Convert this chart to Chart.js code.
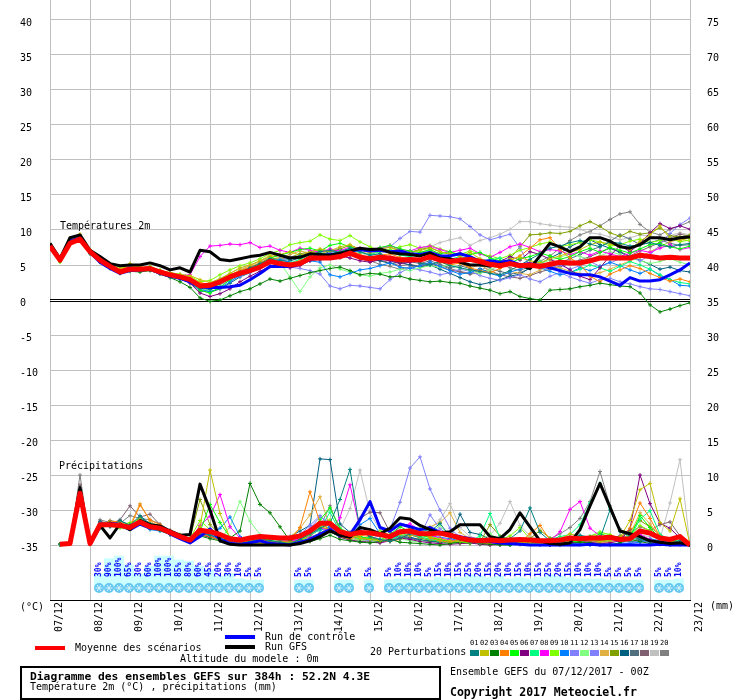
<!DOCTYPE html>
<html>
<head>
<meta charset="utf-8">
<script src="https://cdn.jsdelivr.net/npm/chart.js@4.4.0/dist/chart.umd.min.js"></script>
<style>
  body { margin: 0; background: #fff; }
  #wrap { position: relative; width: 740px; height: 700px; font-family: "DejaVu Sans Mono", monospace; font-size: 10px; color: #000; }
  canvas { position: absolute; left: 0; top: 0; }
  .t { position: absolute; white-space: nowrap; line-height: 12px; }
  .b { font-weight: bold; }
  .bar { position: absolute; width: 30px; height: 4px; }
  .sw { position: absolute; width: 9px; height: 6px; }
  .num { position: absolute; font-size: 7px; line-height: 10px; }
</style>
</head>
<body>
<div id="wrap">
  <canvas id="c" width="740" height="700"></canvas>
  <div class="t" style="left:60px;top:220px">Températures 2m</div>
  <div class="t" style="left:59px;top:460px">Précipitations</div>
  <div class="t" style="left:20px;top:601px">(°C)</div>
  <div class="t" style="left:710px;top:600px">(mm)</div>

  <div class="bar" style="left:225px;top:635px;background:#0000ff"></div>
  <div class="t" style="left:265px;top:631px">Run de contrôle</div>
  <div class="bar" style="left:225px;top:645px;background:#000"></div>
  <div class="t" style="left:265px;top:641px">Run GFS</div>
  <div class="bar" style="left:35px;top:646px;background:#ff0000"></div>
  <div class="t" style="left:75px;top:642px">Moyenne des scénarios</div>
  <div class="t" style="left:180px;top:653px">Altitude du modele : 0m</div>

  <div style="position:absolute;left:20px;top:666px;width:421px;height:34px;border:2px solid #000;box-sizing:border-box"></div>
  <div class="t b" style="left:30px;top:671px;font-size:11.3px">Diagramme des ensembles GEFS sur 384h : 52.2N 4.3E</div>
  <div class="t" style="left:30px;top:681px">Température 2m (°C) , précipitations (mm)</div>

  <div class="t" style="left:370px;top:646px">20 Perturbations</div>
  <div id="swatches"></div>
  <div class="t" style="left:450px;top:666px">Ensemble GEFS du 07/12/2017 - 00Z</div>
  <div class="t b" style="left:450px;top:686px;font-size:11.5px">Copyright 2017 Meteociel.fr</div>
</div>

<script>
// time steps (hours after 07/12 00Z)
const hours = [0,6,12,18,24,30,36,42,48,54,60,66,72,78,84,90,96,102,108,114,120,126,132,138,144,150,156,162,168,174,180,186,192,198,204,210,216,222,228,234,240,246,252,258,264,270,276,282,288,294,300,306,312,318,324,330,336,342,348,354,360,366,372,378,384];
const dayTicks = [0,24,48,72,96,120,144,168,192,216,240,264,288,312,336,360,384];
const dayLabels = ["07/12","08/12","09/12","10/12","11/12","12/12","13/12","14/12","15/12","16/12","17/12","18/12","19/12","20/12","21/12","22/12","23/12"];
const tempTicks = [-35,-30,-25,-20,-15,-10,-5,0,5,10,15,20,25,30,35,40];
const precTicks = [0,5,10,15,20,25,30,35,40,45,50,55,60,65,70,75];

// 2m temperature (°C)
const tMean = [7.7,5.7,8.1,8.7,6.9,5.7,4.8,4.0,4.4,4.4,4.5,4.0,3.6, 3.3,2.9,2.0,2.1,2.6,3.3,3.8,4.2,4.7,5.5,5.2,5.0,5.2, 6.0,6.0,6.0,6.2,6.7,6.1,5.9,6.1,6.0,5.7,5.8,5.7,6.2, 5.7,5.5,5.7,5.8,5.5,5.1,4.9,5.2,4.9,5.0,4.8,5.1,5.4, 5.3,5.3,5.6,6.0,6.0,6.0,6.0,6.4,6.2,6.0,6.1,6.0,6.0];
const tCtrl = [7.5,5.8,8.4,8.9,6.8,5.4,4.5,3.8,4.2,4.3,4.4,3.8,3.4, 3.1,2.6,1.9,1.8,1.8,1.9,2.1,2.9,3.8,4.8,4.8,4.8,5.1, 6.0,6.3,6.5,6.6,7.0,7.2,7.0,7.1,6.9,7.0,6.6,6.5,6.8, 6.3,6.3,6.6,6.2,5.5,5.6,5.4,5.6,5.0,5.2,4.9,4.6,4.2, 3.8,3.6,3.6,3.3,2.7,2.1,3.2,2.7,2.7,2.9,3.6,4.3,5.3];
const tGfs = [8.1,5.9,8.9,9.3,7.1,6.2,5.2,4.9,5.0,5.0,5.3,4.9,4.3, 4.6,4.0,7.1,6.9,5.8,5.6,5.9,6.2,6.4,6.8,6.4,6.0,6.1, 6.6,6.5,6.4,6.7,7.0,7.4,7.2,7.3,6.8,6.6,6.5,6.3,6.7, 6.0,5.9,5.4,5.0,5.0,4.9,5.1,5.2,5.0,4.5,6.3,8.1,7.6, 6.9,7.6,8.9,8.9,8.4,7.6,7.4,7.9,8.9,8.9,8.6,8.9,9.0];
const t01 = [7.5,6.0,8.3,8.8,6.7,5.5,4.6,4.1,4.7,4.3,4.6,3.9,3.4, 3.0,2.6,1.7,1.5,2.4,3.2,4.0,4.6,5.2,5.9,5.6,5.8,6.3, 6.4,6.9,7.1,6.8,7.4,6.9,6.4,6.6,6.0,5.5,5.9,5.3,5.0, 5.5,4.9,4.6,4.3,4.1,3.8,3.6,4.2,5.0,5.8,6.6,7.4,7.7, 8.2,8.5,8.0,7.6,8.3,8.1,7.7,7.9,8.2,7.8,7.6,7.9,8.1];
const t02 = [7.8,5.8,8.7,9.4,7.0,5.6,4.9,4.3,5.2,4.6,4.8,4.2,3.9, 3.6,3.5,2.9,2.5,3.0,3.8,4.6,5.0,5.6,6.2,6.5,6.9,6.4, 6.8,7.3,7.0,7.6,7.9,7.2,6.8,7.3,7.5,7.0,6.7,7.1,7.4, 6.9,6.6,6.2,6.8,5.9,5.5,5.2,5.8,6.1,5.6,5.3,5.9,6.3, 6.8,7.2,7.9,8.3,8.0,7.6,7.2,8.4,9.3,10.6,8.8,8.5,8.9];
const t03 = [7.4,5.6,8.0,8.5,6.6,5.4,4.5,3.8,4.1,4.0,4.2,3.7,3.2, 2.6,1.8,0.3,-0.2,0.0,0.6,1.2,1.6,2.3,3.0,2.7,3.1,3.5, 3.9,4.2,4.5,4.7,4.2,3.6,3.8,3.7,3.3,3.4,3.0,2.8,2.6, 2.7,2.5,2.4,2.0,1.7,1.4,0.9,1.2,0.5,0.2,0.0,1.4,1.5, 1.6,1.9,2.1,2.4,2.2,2.0,1.9,1.0,-0.7,-1.7,-1.3,-0.8,-0.4];
const t04 = [7.9,5.9,8.5,9.0,7.1,5.9,5.1,4.4,4.9,4.7,4.6,4.1,3.8, 3.5,3.1,2.5,2.2,2.8,3.6,4.2,4.7,5.3,5.9,5.4,5.2,5.6, 6.3,6.5,6.2,6.8,7.1,6.5,6.0,6.4,6.6,6.1,5.8,5.6,6.0, 5.4,5.0,5.3,4.6,4.2,3.9,4.5,5.6,6.3,7.4,8.6,8.9,7.2, 6.0,5.1,3.4,2.6,3.7,4.3,4.9,4.5,3.8,3.2,2.7,3.0,2.6];
const t05 = [7.6,5.5,8.2,8.6,6.9,5.8,4.7,3.9,4.3,4.5,4.4,3.9,3.6, 3.4,2.8,1.4,1.0,1.8,2.9,3.7,4.4,5.1,6.0,6.4,6.8,7.2, 7.4,7.0,7.8,8.1,7.6,7.2,6.9,7.5,7.8,7.3,7.0,6.8,7.2, 6.6,6.9,6.3,6.5,6.8,6.0,5.6,5.3,5.9,6.2,6.7,6.3,5.8, 6.2,6.9,7.4,6.8,7.5,7.1,6.7,7.3,7.9,8.1,7.6,7.3,7.7];
const t06 = [7.7,5.8,8.0,8.6,6.8,5.6,4.8,4.1,4.5,4.3,4.3,4.0,3.5, 3.1,2.4,1.0,0.5,0.9,1.6,2.6,3.4,4.1,4.8,5.0,4.6,4.9, 5.6,5.8,6.1,6.3,6.0,5.6,5.4,5.8,5.6,5.2,5.4,5.6,5.9, 5.5,5.2,5.8,6.0,5.3,4.9,5.5,6.2,5.7,6.9,6.5,5.8,5.2, 4.3,3.4,2.9,4.6,6.3,7.8,6.9,8.1,9.6,10.9,10.2,10.6,10.1];
const t07 = [7.8,5.7,8.3,8.9,7.0,5.7,4.9,4.2,4.4,4.5,4.7,4.1,3.7, 3.4,3.0,2.1,2.3,2.9,3.6,4.0,4.5,5.0,5.7,5.5,5.3,5.8, 6.4,6.7,6.6,6.9,7.3,6.8,6.5,6.9,7.1,6.4,6.2,6.6,7.0, 6.1,5.8,6.2,5.9,5.2,5.7,6.0,5.3,4.8,5.1,5.5,4.7,4.3, 3.9,4.4,5.0,4.6,4.1,4.8,5.5,5.0,4.4,3.6,2.9,2.5,2.3];
const t08 = [7.7,5.9,8.4,8.9,7.0,5.9,5.0,4.3,4.8,4.4,4.6,4.1,3.8, 3.5,3.6,6.2,7.7,7.8,8.0,7.9,8.2,7.5,7.7,7.1,6.8,7.4, 7.1,6.8,7.3,7.0,7.6,7.4,6.9,7.4,7.8,7.2,7.0,7.5,7.7, 7.2,6.8,7.1,7.4,6.6,6.1,6.8,7.6,8.0,7.5,6.9,7.2,7.0, 6.5,6.9,6.4,7.0,6.6,6.2,6.7,7.1,6.8,7.4,7.9,7.2,7.5];
const t09 = [7.8,5.4,8.8,9.2,7.1,5.8,5.0,4.5,5.0,4.6,4.7,4.2,3.9, 3.7,3.4,2.6,2.8,3.6,4.3,4.9,5.3,5.9,6.6,7.1,7.9,8.2, 8.4,9.3,8.7,8.5,9.2,8.3,7.6,7.0,7.2,7.6,7.9,7.4,7.8, 7.3,6.9,6.5,7.0,6.6,6.3,5.9,6.4,7.1,7.5,8.0,8.3,7.6, 7.9,8.2,8.6,8.3,7.7,7.9,8.4,8.7,8.2,8.5,8.8,8.3,8.6];
const t10 = [7.5,5.6,8.1,8.6,6.8,5.5,4.6,3.9,4.2,4.2,4.3,3.8,3.4, 3.1,2.5,1.5,1.2,1.7,2.6,3.5,4.1,4.8,5.5,5.8,5.4,5.1, 5.6,5.4,3.6,3.3,3.8,4.3,4.5,4.9,5.3,4.7,4.5,4.9,5.4, 4.8,4.2,3.7,3.9,4.5,3.8,3.4,4.0,4.4,5.0,4.6,4.1,3.6, 3.9,4.6,4.2,4.8,5.4,4.9,4.3,3.8,4.4,3.5,2.9,2.1,2.0];
const t11 = [7.6,5.7,7.9,8.5,6.7,5.6,4.7,4.0,4.3,4.4,4.4,3.9,3.5, 3.2,2.7,1.9,2.0,2.4,3.1,3.6,4.0,4.5,5.3,5.7,6.1,6.3, 6.6,6.2,6.8,7.0,7.4,7.1,6.8,7.3,7.6,8.8,9.8,9.7,12.1, 12.0,11.9,11.6,10.5,9.3,8.6,9.0,9.4,7.4,4.8,5.2,4.6,5.0, 4.4,4.9,5.5,4.8,5.3,5.9,6.2,5.6,6.4,7.9,9.5,10.8,11.7];
const t12 = [7.9,5.8,8.6,9.1,7.2,5.9,5.0,4.2,4.6,4.5,4.8,4.3,3.7, 3.3,2.8,1.6,1.3,2.2,3.0,3.9,4.5,5.2,5.5,5.3,3.3,1.2, 3.3,4.6,5.0,4.4,4.0,3.6,3.4,3.8,4.0,4.4,4.2,4.6,4.9, 4.7,5.1,4.6,4.2,3.8,4.3,4.9,5.5,5.0,4.6,5.2,5.7,6.1, 6.6,6.2,5.8,6.3,6.9,6.5,6.0,5.6,5.2,5.5,5.9,5.4,5.0];
const t13 = [7.6,5.6,8.2,8.7,6.9,5.7,4.8,4.0,4.4,4.3,4.5,4.0,3.6, 3.3,2.9,1.8,1.6,2.1,2.8,3.4,4.0,4.6,5.4,5.0,4.7,4.5, 4.2,3.7,2.0,1.6,2.1,2.0,1.8,1.6,2.9,3.9,4.6,4.3,4.0, 3.6,3.9,4.4,4.1,3.5,3.1,2.8,3.2,3.6,3.0,2.6,3.4,3.9, 3.3,2.8,2.4,2.9,3.1,2.6,2.3,1.9,1.6,1.5,1.2,0.9,0.6];
const t14 = [7.8,5.7,8.6,9.3,7.0,5.8,5.1,4.5,5.1,4.6,4.8,4.2,3.9, 3.6,3.3,2.4,2.1,2.6,3.5,4.3,4.9,5.6,6.4,6.0,6.5,7.0, 6.7,7.0,6.5,6.9,7.3,6.9,6.6,7.0,7.2,6.6,6.4,6.8,7.1, 6.5,5.9,5.2,4.6,5.0,4.2,3.4,4.1,3.8,3.6,4.3,4.9,4.6, 4.1,3.8,3.5,3.9,4.4,5.0,5.6,6.1,6.9,7.6,8.3,8.7,8.4];
const t15 = [7.7,5.8,8.5,9.0,7.1,5.8,4.9,4.3,4.8,4.5,4.6,4.1,3.7, 3.4,3.1,2.2,2.0,2.7,3.4,4.1,4.6,5.3,6.0,5.8,6.1,6.6, 6.9,7.2,6.8,7.3,7.8,7.3,6.9,7.3,7.6,7.0,6.8,7.2,7.5, 6.9,6.5,6.7,6.2,5.8,5.5,5.0,5.9,7.6,9.3,9.4,9.6,9.5, 9.8,10.6,11.2,10.5,9.6,9.1,9.8,9.4,9.6,10.3,9.2,9.0,9.3];
const t16 = [7.5,5.9,8.0,8.6,6.8,5.5,4.6,3.9,4.3,4.2,4.4,3.9,3.4, 3.0,2.5,1.3,1.1,1.6,2.4,3.3,3.9,4.6,5.2,5.3,5.6,6.0, 6.6,6.4,6.9,7.2,6.8,6.3,5.9,5.6,5.2,5.4,5.0,4.7,5.0, 4.4,3.8,3.2,2.6,2.2,2.5,2.9,3.4,3.7,4.6,5.1,6.0,6.7, 7.6,8.3,8.6,7.9,7.4,6.8,6.2,5.7,5.1,4.4,4.7,4.2,4.0];
const t17 = [7.7,5.7,8.2,8.8,6.9,5.6,4.7,4.1,4.5,4.4,4.5,4.0,3.6, 3.2,2.8,1.9,1.7,2.3,3.1,3.8,4.3,4.9,5.6,5.4,5.1,5.5, 6.2,6.0,6.3,6.5,6.9,6.3,5.8,6.0,5.7,5.3,5.5,5.2,5.6, 5.1,4.6,4.9,4.5,4.0,4.4,4.1,3.7,3.9,4.5,5.0,4.6,5.3, 5.9,6.5,7.1,7.6,8.4,9.3,8.7,7.9,8.2,8.6,8.1,7.8,7.9];
const t18 = [7.8,5.6,8.4,8.9,7.0,5.7,4.8,4.1,4.6,4.5,4.6,4.1,3.7, 3.4,3.0,2.0,1.9,2.5,3.3,4.0,4.4,5.0,5.7,5.3,5.0,5.4, 6.0,5.7,6.1,6.0,6.4,5.9,5.5,5.7,5.3,4.9,5.1,4.8,5.2, 4.7,4.3,4.0,3.7,3.9,4.2,3.6,3.3,3.1,3.5,4.0,4.4,4.8, 5.2,5.7,6.2,6.8,7.4,6.9,6.3,7.0,7.6,8.2,8.9,9.4,9.1];
const t19 = [7.9,5.9,8.7,9.3,7.1,5.9,5.0,4.4,5.0,4.7,4.7,4.2,3.8, 3.5,3.2,2.3,2.4,3.1,3.8,4.5,4.9,5.5,6.1,5.8,6.0,6.4, 6.9,6.6,7.1,7.4,7.0,6.7,6.3,6.7,7.0,6.5,6.7,7.3,7.6, 8.2,8.6,8.9,7.8,8.5,8.9,9.4,10.1,11.2,11.2,10.9,10.7,10.5, 10.4,10.1,9.6,9.4,9.0,8.6,8.9,9.3,9.1,8.8,9.2,9.6,9.3];
const t20 = [7.6,5.7,8.3,8.7,6.9,5.7,4.8,4.1,4.5,4.4,4.4,3.9,3.5, 3.2,2.7,1.8,1.7,2.3,3.1,3.7,4.2,4.8,5.4,5.2,5.0,5.4, 6.1,5.9,6.2,6.4,6.8,6.2,5.6,5.1,4.8,4.4,4.7,5.0,5.3, 4.9,4.5,4.1,3.8,4.3,4.7,5.1,4.6,4.2,4.8,5.5,6.3,7.4, 8.5,9.3,9.8,10.6,11.5,12.3,12.6,10.8,9.7,9.3,10.1,10.6,11.2];

// 6h precipitation (mm), first step has no value
const pMean = [null, 0.1,0.2,7.4,0.2,2.9,2.9,2.8,2.5,3.3,2.6,2.4,1.8, 1.2,0.7,2.1,1.9,1.5,0.9,0.7,1.0,1.2,1.1,1.0,1.0,1.3, 2.0,3.1,3.1,1.9,1.5,1.8,1.7,1.5,1.2,1.9,2.0,1.6,1.6, 1.7,1.4,1.0,0.7,0.6,0.7,0.6,0.7,0.8,0.7,0.6,0.6,0.7, 1.0,0.9,1.0,1.0,1.1,0.8,0.9,2.0,1.7,1.0,0.8,1.2,0.0];
const pCtrl = [null, 0.1,0.2,7.0,0.1,2.6,3.1,2.9,2.2,3.0,2.4,2.6,1.6, 0.9,0.3,1.2,2.3,0.8,0.2,0.1,0.3,0.6,0.2,0.1,0.0,0.4, 0.8,1.5,2.2,1.3,1.5,3.6,6.2,2.5,2.0,3.0,2.6,2.2,2.5, 1.8,1.4,1.2,0.9,0.7,0.5,0.3,0.2,0.1,0.0,0.0,0.0,0.0, 0.0,0.0,0.1,0.0,0.0,0.0,0.0,0.0,0.0,0.1,0.0,0.0,0.0];
const pGfs = [null, 0.1,0.3,8.2,0.1,2.8,1.0,3.0,2.2,3.5,2.9,2.7,2.0, 1.4,1.5,8.7,5.0,0.6,0.1,0.0,0.0,0.0,0.0,0.0,0.0,0.2, 0.6,1.2,2.0,1.4,1.1,2.5,2.2,1.6,2.4,3.9,3.7,2.8,2.2, 1.7,1.9,2.9,2.9,2.9,1.2,0.9,2.2,4.6,2.6,0.6,0.2,0.1, 0.3,2.2,5.6,8.8,5.4,2.0,1.6,1.2,0.6,0.4,0.2,0.3,0.0];
const p01 = [null, 0.1,0.2,7.6,0.3,3.2,2.6,3.5,2.8,4.2,3.0,2.2,1.6, 1.0,0.5,1.8,1.4,0.9,0.3,0.2,0.5,0.9,0.6,0.4,0.2,0.8, 1.6,2.4,3.1,6.5,10.8,2.1,1.2,0.8,0.5,0.9,1.6,2.3,1.9, 3.1,1.2,0.8,0.4,0.3,0.6,1.1,0.9,2.0,5.3,1.8,0.6,0.3, 0.8,1.4,1.1,0.9,5.0,1.9,1.3,0.8,0.5,0.4,0.3,0.6,0.0];
const p02 = [null, 0.1,0.2,6.8,0.2,2.6,2.8,2.5,2.3,3.6,2.8,2.5,1.9, 1.3,0.9,2.6,10.7,4.5,1.0,0.4,0.2,0.3,0.1,0.2,0.4,0.6, 1.5,2.6,2.2,1.6,1.4,1.0,0.8,0.6,1.2,1.5,1.3,1.8,1.2, 0.9,0.6,0.5,0.4,0.3,0.5,0.8,0.6,0.4,0.3,0.2,0.5,0.9, 1.6,1.2,0.8,0.5,0.7,1.1,3.5,7.9,8.8,3.2,2.0,6.6,0.0];
const p03 = [null, 0.1,0.2,6.5,0.2,2.4,3.2,2.8,2.9,3.1,2.4,2.1,1.5, 1.0,0.6,1.3,0.9,0.6,1.0,2.0,8.8,5.8,4.6,2.6,0.6,0.3, 0.5,0.9,1.4,0.8,0.6,0.4,0.3,0.5,0.8,0.4,0.3,0.2,0.1, 0.0,0.2,0.4,0.6,0.2,0.1,0.0,0.0,0.3,0.5,0.2,0.1,0.0, 0.2,0.4,0.3,0.1,0.0,0.3,0.8,0.5,0.2,0.1,0.0,0.1,0.0];
const p04 = [null, 0.1,0.3,7.2,0.2,2.8,3.4,3.3,2.5,5.7,3.6,2.9,2.0, 1.4,0.8,1.6,1.2,0.7,0.4,0.3,0.6,0.8,0.5,0.4,0.6,2.5, 7.6,3.2,2.1,1.2,0.9,1.4,1.2,0.7,0.5,0.8,1.7,2.2,1.0, 0.6,0.4,0.8,0.5,0.3,0.2,0.6,0.9,0.4,1.6,2.8,0.7,0.3, 0.5,0.9,0.7,0.6,0.8,1.0,2.4,6.0,3.8,1.2,0.6,0.4,0.0];
const p05 = [null, 0.1,0.2,6.9,0.2,2.7,2.9,2.6,2.4,3.0,2.5,2.3,1.7, 1.1,0.6,1.9,5.8,3.2,1.1,0.5,0.8,1.0,0.7,0.3,0.2,0.5, 1.8,3.6,5.3,2.4,1.6,1.2,0.9,0.7,1.5,2.6,1.9,1.4,1.1, 0.8,0.5,0.4,0.3,0.9,0.6,0.4,0.3,0.2,0.1,0.4,0.8,0.5, 0.6,0.4,0.9,1.6,1.2,0.8,1.1,4.2,2.5,0.9,0.6,0.3,0.0];
const p06 = [null, 0.1,0.2,7.8,0.2,3.0,2.7,2.9,2.6,3.4,2.7,2.5,1.9, 1.2,0.8,1.5,1.1,0.8,0.5,0.3,0.2,0.4,0.3,0.2,0.1,0.3, 0.9,1.6,2.3,1.1,0.7,0.5,0.4,0.3,0.6,1.0,0.8,0.5,0.3, 0.2,0.1,0.2,0.3,0.1,0.0,0.1,0.2,0.4,0.3,0.1,0.0,0.2, 0.3,0.5,0.4,0.2,0.3,0.6,2.3,10.0,5.9,3.1,2.4,1.0,0.0];
const p07 = [null, 0.1,0.2,7.0,0.3,2.5,3.0,2.7,2.7,3.2,2.4,2.2,1.8, 1.3,0.9,2.4,1.8,1.1,0.7,0.5,0.3,0.5,0.4,0.6,0.3,0.7, 1.4,2.2,4.7,1.8,1.2,0.9,1.1,0.8,0.6,1.3,1.7,1.2,0.8, 0.5,0.4,0.7,0.5,1.3,4.5,1.0,0.6,0.4,0.3,0.6,0.8,1.2, 1.5,2.9,6.0,8.8,5.3,2.1,1.0,3.7,4.9,1.5,0.8,0.5,0.0];
const p08 = [null, 0.1,0.2,7.3,0.2,3.1,2.8,3.0,2.6,3.1,2.9,2.6,1.6, 1.1,0.7,2.8,4.1,7.2,2.6,1.0,0.5,0.3,0.2,0.4,0.5,0.9, 1.2,2.5,2.0,3.9,8.6,2.3,1.1,0.6,0.9,2.7,3.0,2.1,1.4, 1.0,0.7,0.5,0.4,0.3,0.2,0.1,0.3,0.5,0.4,0.2,0.6,1.9, 5.1,6.2,2.4,1.3,0.8,0.5,0.9,1.5,0.8,0.4,0.3,0.2,0.0];
const p09 = [null, 0.1,0.2,6.7,0.1,2.6,3.3,2.9,3.2,3.7,3.0,2.4,1.7, 1.5,0.9,3.5,2.2,1.4,0.8,0.5,0.4,0.3,0.4,0.5,0.4,0.6, 1.2,2.8,3.6,1.9,1.3,0.8,1.0,2.0,1.4,1.8,2.3,1.5,1.0, 0.7,0.6,0.4,0.3,0.5,0.4,0.7,1.3,2.5,0.9,0.5,0.4,0.6, 0.9,0.7,1.2,1.8,1.5,0.9,1.3,2.8,2.0,1.1,0.7,0.5,0.0];
const p10 = [null, 0.1,0.2,7.1,0.2,2.9,3.1,2.6,2.3,3.3,2.2,2.0,1.5, 1.0,0.5,1.6,1.3,2.4,4.0,1.2,0.6,0.5,0.3,0.2,0.2,0.5, 1.6,2.1,2.6,1.7,1.5,2.9,3.8,1.6,1.0,1.4,2.4,1.8,1.3, 1.1,0.9,0.6,0.4,0.3,0.2,0.1,0.0,0.1,0.2,0.0,0.0,0.1, 0.2,0.1,0.0,0.0,0.1,0.3,0.2,0.4,0.9,0.6,0.3,0.2,0.0];
const p11 = [null, 0.1,0.2,7.5,0.2,2.8,2.9,3.0,2.4,3.2,2.6,2.5,1.9, 1.2,0.8,2.0,1.6,1.0,0.6,0.5,0.7,0.9,0.6,0.4,0.3,0.9, 2.4,4.0,3.3,2.1,1.5,1.0,0.9,1.3,2.2,6.1,11.0,12.6,8.0, 5.0,2.4,1.1,0.7,0.5,0.4,0.3,0.6,0.5,0.3,0.2,0.1,0.2, 0.3,0.2,0.1,0.0,0.1,0.2,0.3,0.5,0.4,0.3,0.2,0.1,0.0];
const p12 = [null, 0.1,0.2,6.6,0.2,2.5,2.7,2.4,2.2,3.0,2.3,2.1,1.6, 1.1,0.7,1.4,1.1,0.8,2.6,6.2,3.4,1.5,0.7,0.4,0.2,0.4, 0.8,1.3,1.9,1.1,0.8,0.6,0.5,0.7,1.1,0.9,0.6,0.4,1.6, 2.8,1.1,0.7,0.5,0.6,1.6,0.7,0.4,0.3,0.2,0.4,0.6,0.5, 0.7,0.9,1.3,1.9,1.4,0.8,0.6,1.1,0.7,0.4,0.3,0.2,0.0];
const p13 = [null, 0.1,0.2,7.2,0.2,2.7,3.2,3.1,2.6,3.5,2.7,2.3,1.8, 1.2,0.7,1.7,1.3,0.9,0.5,0.4,0.3,0.2,0.3,0.5,0.7,1.5, 2.8,4.2,2.6,1.6,1.2,0.8,0.6,0.5,0.7,1.2,1.6,1.2,4.3, 2.3,1.4,0.8,0.5,0.3,0.2,0.4,0.6,0.3,0.2,0.1,0.0,0.1, 0.2,0.1,0.0,0.1,0.2,0.1,0.3,0.5,0.7,0.4,0.2,0.1,0.0];
const p14 = [null, 0.1,0.3,6.4,0.2,2.6,3.0,3.1,2.8,5.9,3.4,2.6,1.9, 1.2,0.8,1.5,1.2,0.8,0.5,0.3,0.2,0.3,0.4,0.6,1.1,2.4, 4.3,6.9,2.5,1.3,0.9,0.7,0.5,0.6,1.0,1.6,2.0,1.8,2.6, 3.2,4.6,1.8,0.9,0.5,0.3,0.2,0.4,0.6,0.3,0.2,0.1,0.2, 0.4,0.6,0.5,0.3,0.4,0.7,1.5,4.6,3.0,1.2,0.7,0.4,0.0];
const p15 = [null, 0.1,0.2,7.7,0.2,3.0,3.0,2.7,2.3,3.2,2.8,2.4,1.7, 1.2,1.0,6.5,2.9,1.5,0.8,0.5,0.4,0.3,0.2,0.2,0.3,0.6, 1.3,2.3,2.9,1.7,1.1,0.9,0.7,0.6,0.8,1.2,1.5,1.0,0.7, 0.5,0.4,0.3,0.2,0.4,2.9,1.3,0.7,0.4,0.9,2.1,1.0,0.6, 0.8,1.0,0.7,0.5,0.6,1.2,2.0,3.5,2.6,1.4,0.8,0.5,0.0];
const p16 = [null, 0.1,0.2,7.9,0.2,3.3,2.8,3.4,2.9,3.9,3.1,2.7,2.0, 1.4,0.9,1.7,1.5,1.1,0.6,0.4,0.3,0.5,0.7,0.9,1.2,2.0, 2.8,12.3,12.2,3.0,1.8,1.2,0.8,0.6,0.9,1.3,1.1,0.8,0.6, 0.4,0.7,4.4,1.8,1.5,0.8,0.5,0.3,0.2,0.4,0.3,0.2,0.4, 0.6,0.5,0.8,1.1,0.9,0.7,0.5,0.6,0.4,0.3,0.5,0.3,0.0];
const p17 = [null, 0.1,0.2,7.4,0.2,2.7,3.5,3.2,2.5,3.4,2.8,2.4,1.7, 1.1,0.6,1.4,1.2,0.7,0.4,0.3,0.4,0.3,0.2,0.3,0.5,0.8, 1.1,1.7,2.6,1.3,0.9,0.6,0.5,0.4,0.7,1.1,1.0,0.7,0.5, 0.4,0.6,0.5,0.3,0.2,0.4,0.3,0.2,0.1,0.2,0.3,0.5,0.7, 1.0,0.7,0.5,0.6,0.9,1.3,1.0,0.7,0.5,0.4,0.6,0.4,0.0];
const p18 = [null, 0.1,0.2,8.6,0.2,3.4,3.0,3.6,5.6,4.0,4.4,2.9,2.1, 1.3,0.8,1.6,1.2,0.9,0.5,0.3,0.2,0.3,0.4,0.6,0.9,1.4, 1.9,2.8,3.3,2.1,1.6,3.8,4.7,4.6,1.8,1.2,0.9,0.7,0.5, 0.4,0.3,0.5,0.7,0.4,0.3,0.2,0.4,0.6,0.5,0.3,0.2,0.4, 0.6,0.9,0.7,0.5,0.8,1.2,1.8,2.6,2.1,2.9,3.3,1.3,0.0];
const p19 = [null, 0.1,0.2,8.0,0.2,3.1,3.1,2.8,2.6,3.6,2.9,2.6,2.0, 1.3,0.9,2.2,1.7,1.0,0.6,0.4,0.3,0.4,0.5,0.7,0.9,1.2, 1.6,2.4,3.4,2.2,5.2,10.7,4.6,2.1,1.4,1.0,0.8,1.9,2.3, 3.6,5.9,2.5,1.2,0.8,1.4,3.1,6.2,2.8,1.3,0.7,0.4,0.3, 0.5,0.7,0.6,0.4,0.5,0.8,1.0,1.4,1.2,0.9,6.0,12.2,0.0];
const p20 = [null, 0.1,0.2,10.0,0.2,3.6,3.2,3.1,4.2,3.8,3.6,3.0,2.1, 1.4,0.9,1.8,1.4,0.9,0.6,0.4,0.3,0.2,0.3,0.5,0.6,1.0, 1.4,2.6,5.6,2.0,1.2,0.9,0.7,0.6,0.8,1.2,1.5,1.1,0.8, 0.6,0.5,0.7,0.4,0.3,0.2,0.4,0.6,0.4,0.3,0.5,0.9,1.6, 2.5,3.8,6.2,10.5,5.6,2.3,1.4,0.9,0.6,0.4,0.3,0.2,0.0];

// snow probability (%) by forecast hour
const snowHours = [30,36,42,48,54,60,66,72,78,84,90,96,102,108,114,120,126,150,156,174,180,192,204,210,216,222,228,234,240,246,252,258,264,270,276,282,288,294,300,306,312,318,324,330,336,342,348,354,366,372,378];
const snowPct = [30,90,100,65,30,60,100,100,85,80,60,45,20,30,10,5,5,5,5,5,5,5,5,10,10,10,5,15,10,15,25,20,15,20,10,15,10,15,25,20,15,10,10,10,5,5,5,5,5,5,10];

const memberColors = ["#008080","#c0c000","#008000","#ff8000","#00ff00","#800080","#00ff80","#ff00ff","#80ff00","#0080ff",
  "#8080ff","#80ff80","#8080ff","#e0b040","#80a000","#006080","#507080","#806070","#c0c0c0","#808080"];
const memberTemps = [t01,t02,t03,t04,t05,t06,t07,t08,t09,t10,t11,t12,t13,t14,t15,t16,t17,t18,t19,t20];
const memberPrecs = [p01,p02,p03,p04,p05,p06,p07,p08,p09,p10,p11,p12,p13,p14,p15,p16,p17,p18,p19,p20];

const FONT = "DejaVu Sans Mono";

// legend swatches for the 20 perturbations
const sw = document.getElementById("swatches");
memberColors.forEach((c, k) => {
  const n = document.createElement("div");
  n.className = "num";
  n.style.left = (470 + k * 10) + "px";
  n.style.top = "638px";
  n.textContent = String(k + 1).padStart(2, "0");
  sw.appendChild(n);
  const b = document.createElement("div");
  b.className = "sw";
  b.style.left = (470 + k * 10) + "px";
  b.style.top = "650px";
  b.style.background = c;
  sw.appendChild(b);
});

const line = (data, color, width, axis, marks) => ({
  data: data,
  borderColor: color,
  backgroundColor: color,
  borderWidth: width,
  borderJoinStyle: width > 1 ? "round" : "miter",
  yAxisID: axis,
  pointRadius: marks ? 2 : 0,
  pointStyle: "cross",
  pointBorderWidth: 1,
  pointBorderColor: color,
  tension: 0,
  fill: false
});

// first datasets are drawn on top
const datasets = [
  line(tMean, "#ff0000", 5, "y", false),
  line(pMean, "#ff0000", 5, "y1", false),
  line(tGfs, "#000000", 3, "y", false),
  line(pGfs, "#000000", 3, "y1", false),
  line(tCtrl, "#0000ff", 3, "y", false),
  line(pCtrl, "#0000ff", 3, "y1", false)
];
memberColors.forEach((c, k) => {
  datasets.push(line(memberTemps[k], c, 1, "y", true));
  datasets.push(line(memberPrecs[k], c, 1, "y1", true));
});

// double black line at 0°C + snow row under the precipitation panel
const extras = {
  id: "extras",
  beforeDatasetsDraw(chart) {
    const ctx = chart.ctx;
    const area = chart.chartArea;
    const xs = chart.scales.x;
    const y0 = Math.round(chart.scales.y.getPixelForValue(0));
    ctx.save();
    ctx.strokeStyle = "#000";
    ctx.lineWidth = 1;
    [y0 - 0.5, y0 + 1.5].forEach(yy => {
      ctx.beginPath();
      ctx.moveTo(area.left, yy);
      ctx.lineTo(area.right, yy);
      ctx.stroke();
    });

    const base = area.bottom;
    ctx.fillStyle = "#ccffff";
    snowHours.forEach((h, k) => {
      const x = Math.round(xs.getPixelForValue(h)) - 1;
      const top = base - 19 - snowPct[k] * 0.253;
      ctx.fillRect(x - 5, top, 10, base - 10 - top);
    });
    snowHours.forEach((h) => {
      const x = Math.round(xs.getPixelForValue(h)) - 1;
      const cy = base - 12;
      ctx.fillStyle = "#66c8f0";
      ctx.beginPath();
      ctx.arc(x, cy, 5, 0, Math.PI * 2);
      ctx.fill();
      ctx.strokeStyle = "#d8f4ff";
      ctx.lineWidth = 1;
      ctx.beginPath();
      for (let a = 0; a < 3; a++) {
        const ang = a * Math.PI / 3;
        ctx.moveTo(x - Math.cos(ang) * 3.5, cy - Math.sin(ang) * 3.5);
        ctx.lineTo(x + Math.cos(ang) * 3.5, cy + Math.sin(ang) * 3.5);
      }
      ctx.stroke();
    });
    ctx.fillStyle = "#0000ff";
    ctx.font = "bold 8px '" + FONT + "'";
    ctx.textAlign = "left";
    ctx.textBaseline = "middle";
    snowHours.forEach((h, k) => {
      const x = Math.round(xs.getPixelForValue(h)) - 1;
      ctx.save();
      ctx.translate(x, base - 23);
      ctx.rotate(-Math.PI / 2);
      ctx.fillText(snowPct[k] + "%", 0, 0);
      ctx.restore();
    });
    ctx.restore();
  }
};

const tickFont = { family: FONT, size: 10 };
// keep the plot frame where the original has it: no automatic label padding
const noPad = s => { s.paddingTop = 0; s.paddingBottom = 0; s.paddingLeft = 0; s.paddingRight = 0; };

new Chart(document.getElementById("c"), {
  type: "line",
  data: { labels: hours, datasets: datasets },
  plugins: [extras],
  options: {
    responsive: false,
    animation: false,
    devicePixelRatio: 1,
    layout: { autoPadding: false, padding: { left: 20, right: 0, top: 0, bottom: 0 } },
    plugins: {
      legend: { display: false },
      tooltip: { enabled: false },
      title: { display: false }
    },
    scales: {
      x: {
        type: "linear",
        min: 0,
        max: 384,
        position: "bottom",
        afterFit: s => { s.height = 100; noPad(s); },
        afterBuildTicks: s => { s.ticks = dayTicks.map(v => ({ value: v })); },
        ticks: {
          autoSkip: false,
          minRotation: 90,
          maxRotation: 90,
          padding: 2,
          labelOffset: 9,
          color: "#000",
          font: tickFont,
          callback: v => dayLabels[dayTicks.indexOf(v)]
        },
        grid: { color: "#c0c0c0", drawTicks: false },
        border: { color: "#000", width: 1 }
      },
      y: {
        position: "left",
        min: -300 / 7,
        max: 300 / 7,
        afterFit: s => { s.width = 30; noPad(s); },
        afterBuildTicks: s => { s.ticks = tempTicks.map(v => ({ value: v })); },
        ticks: { crossAlign: "far", color: "#000", font: tickFont, labelOffset: 3 },
        grid: {
          color: c => (c.tick && c.tick.value === 0) ? "rgba(0,0,0,0)" : "#c0c0c0",
          drawTicks: false
        },
        border: { display: false }
      },
      y1: {
        position: "right",
        min: -300 / 7 + 35,
        max: 300 / 7 + 35,
        afterFit: s => { s.width = 50; noPad(s); },
        afterBuildTicks: s => { s.ticks = precTicks.map(v => ({ value: v })); },
        ticks: { padding: 17, color: "#000", font: tickFont, labelOffset: 3 },
        grid: { display: false, drawTicks: false },
        border: { display: false }
      }
    }
  }
});
</script>
</body>
</html>
